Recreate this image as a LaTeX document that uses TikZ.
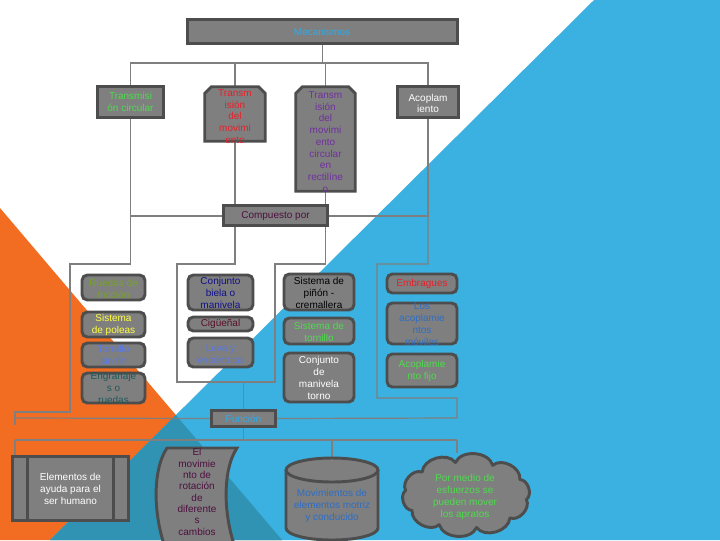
\documentclass[tikz,border=0pt]{standalone}
\usepackage{fontspec}
\setmainfont{Liberation Sans}
\usetikzlibrary{fit}
\definecolor{boxg}{HTML}{7F7F7F}
\definecolor{bord}{HTML}{4D4D4D}
\definecolor{orng}{HTML}{F26D21}
\definecolor{blu}{HTML}{3AB1E0}
\definecolor{tealb}{HTML}{3193B3}
\definecolor{tcyan}{HTML}{35A8E2}
\definecolor{tgreen}{HTML}{4CDC4C}
\definecolor{tred}{HTML}{E8202A}
\definecolor{tpurp}{HTML}{7030A0}
\definecolor{tmaroon}{HTML}{4E1040}
\definecolor{tolive}{HTML}{78A030}
\definecolor{tyell}{HTML}{FFFF40}
\definecolor{tlblue}{HTML}{5A78E0}
\definecolor{tdteal}{HTML}{1E5A5A}
\definecolor{tnavy}{HTML}{10108A}
\definecolor{tburg}{HTML}{5A1028}
\definecolor{tmblue}{HTML}{2F6EC4}
\begin{document}
\begin{tikzpicture}[x=0.75pt,y=-0.75pt,
  ln/.style={draw=boxg, line width=0.9pt},
  bx/.style={draw=bord, fill=boxg, line width=2.2pt, inner sep=0pt},
  rbx/.style={bx, rounded corners=4pt},
  fitn/.style={inner sep=0pt},
  tx/.style={align=center, font=\fontsize{7.5pt}{8.8pt}\selectfont, inner sep=0pt}]
\useasboundingbox (0,0) rectangle (720,540);
\clip (0,0) rectangle (720,540);
% background
\fill[white] (0,0) rectangle (720,540);
\fill[orng] (0,208) -- (0,540) -- (282,540) -- cycle;
\fill[blu] (594,0) -- (720,0) -- (720,540) -- (50,540) -- cycle;
\begin{scope}
\clip (0,208) -- (0,540) -- (282,540) -- cycle;
\fill[tealb] (594,0) -- (720,0) -- (720,540) -- (50,540) -- cycle;
\end{scope}
% node frames (named, invisible) for connectors
\node[fitn, fit={(188,20)(457,43)}] (mec) {};
\node[fitn, fit={(98,87)(163,117)}] (tc) {};
\node[fitn, fit={(205,87)(265,141)}] (tdm) {};
\node[fitn, fit={(296,87)(355,191)}] (rec) {};
\node[fitn, fit={(398,87)(458,117)}] (aco) {};
\node[fitn, fit={(224,206)(327,225)}] (cp) {};
\node[fitn, fit={(212,411)(275,426)}] (fn) {};
\node[fitn, fit={(13,457)(128,520)}] (el) {};
\node[fitn, fit={(157,448)(240,540)}] (scr) {};
\node[fitn, fit={(286,458)(378,540)}] (cyl) {};
\node[fitn, fit={(397,453)(535,537)}] (cl) {};
% bend coordinates
\coordinate (b1) at (0,63);
\coordinate (b2) at (0,216);
\coordinate (b3) at (0,264);
\coordinate (k1) at (70,264);
\coordinate (k1e) at (70,412);
\coordinate (k0) at (15,412);
\coordinate (k0e) at (15,418);
\coordinate (k0s) at (15,425);
\coordinate (k2) at (177,264);
\coordinate (k2e) at (177,382);
\coordinate (k3) at (275,264);
\coordinate (k3e) at (275,382);
\coordinate (k4) at (377,264);
\coordinate (k4e) at (377,398);
\coordinate (k5) at (457,398);
\coordinate (k5e) at (457,418);
\coordinate (m1) at (15,440);
\coordinate (m4) at (457,440);
\coordinate (elt) at (15,457);
% connectors
\draw[ln] (mec.south) -- (mec.south|-b1);
\draw[ln] (tc.north) -- (tc.north|-b1) -- (aco.north|-b1) -- (aco.north);
\draw[ln] (tdm.north) -- (tdm.north|-b1);
\draw[ln] (rec.north) -- (rec.north|-b1);
\draw[ln] (tc.south) -- (tc.south|-b2) -- (aco.south|-b2) -- (aco.south);
\draw[ln] (tdm.south) -- (tdm.south|-cp.north);
\draw[ln] (rec.south) -- (rec.south|-cp.north);
\draw[ln] (tc.south|-b2) -- (tc.south|-b3) -- (k1) -- (k1e) -- (k0) -- (k0s);
\draw[ln] (k0e) -- (fn.west);
\draw[ln] (tdm.south|-cp.south) -- (tdm.south|-b3) -- (k2) -- (k2e) -- (k3e) -- (k3) -- (rec.south|-b3) -- (rec.south|-cp.south);
\draw[ln] (fn.north|-k2e) -- (fn.north);
\draw[ln] (aco.south|-b2) -- (aco.south|-b3) -- (k4) -- (k4e) -- (k5) -- (k5e) -- (fn.east);
\draw[ln] (fn.south) -- (fn.south|-m1);
\draw[ln] (m1) -- (m4);
\draw[ln] (m1) -- (elt);
\draw[ln] (cyl.north|-m1) -- (cyl.north);
\draw[ln] (m4) -- (m4|-cl.north);
% shapes
\draw[bx] (mec.south west) rectangle (mec.north east);
\draw[bx] (tc.south west) rectangle (tc.north east);
\draw[bx] (tdm.south west) -- ([yshift=-5pt]tdm.north west) -- ([xshift=5pt]tdm.north west) -- ([xshift=-5pt]tdm.north east) -- ([yshift=-5pt]tdm.north east) -- (tdm.south east) -- cycle;
\draw[bx] (rec.south west) -- ([yshift=-5pt]rec.north west) -- ([xshift=5pt]rec.north west) -- ([xshift=-5pt]rec.north east) -- ([yshift=-5pt]rec.north east) -- (rec.south east) -- cycle;
\draw[bx] (aco.south west) rectangle (aco.north east);
\draw[bx] (cp.south west) rectangle (cp.north east);
\node[rbx, fit={(82,275)(145,300)}] (a1) {};
\node[rbx, fit={(82,312)(145,337)}] (a2) {};
\node[rbx, fit={(82,343)(145,367)}] (a3) {};
\node[rbx, fit={(82,373)(145,403)}] (a4) {};
\node[rbx, fit={(188,275)(253,310)}] (bb1) {};
\node[rbx, fit={(188,317)(253,331)}] (bb2) {};
\node[rbx, fit={(188,338)(253,367)}] (bb3) {};
\node[rbx, fit={(284,274)(354,310)}] (c1) {};
\node[rbx, fit={(284,318)(354,344)}] (c2) {};
\node[rbx, fit={(284,353)(354,402)}] (c3) {};
\node[rbx, fit={(387,274)(457,293)}] (d1) {};
\node[rbx, fit={(387,303)(457,344)}] (d2) {};
\node[rbx, fit={(387,354)(457,387)}] (d3) {};
\draw[bx] (fn.south west) rectangle (fn.north east);
% predefined process
\draw[bx] (el.south west) rectangle (el.north east);
\draw[draw=bord, line width=2.2pt] ([xshift=11.25pt]el.north west) -- ([xshift=11.25pt]el.south west);
\draw[draw=bord, line width=2.2pt] ([xshift=-11.25pt]el.north east) -- ([xshift=-11.25pt]el.south east);
% scroll
\draw[bx] (167,448) -- (237,448) .. controls (222,470) and (222,520) .. (240,560) -- (170,560) .. controls (152,520) and (152,470) .. (167,448) -- cycle;
% cylinder
\fill[boxg] (286,470) -- (286,528) arc[start angle=180, end angle=360, x radius=34.5pt, y radius=9pt] -- (378,470) -- cycle;
\draw[draw=bord, line width=2.2pt] (286,470) -- (286,528) arc[start angle=180, end angle=360, x radius=34.5pt, y radius=9pt] -- (378,470);
\draw[bx] (332,470) ellipse [x radius=34.5pt, y radius=9pt];
% cloud
\foreach \i in {0,...,10} \coordinate (P\i) at ({466+61*cos(\i*36+8)},{495+33*sin(\i*36+8)});
\draw[bx, line join=round] (P0) \foreach \i in {1,...,10} { to[bend left=70] (P\i) } -- cycle;
% texts
\node[tx, text=tcyan] (tmec) at (322,32) {Mecanismos};
\node[tx, text=tgreen] (ttc) at (130.5,102) {Transmisi\\ón circular};
\node[tx, text=tred] (ttdm) at (235,116.5) {Transm\\isión\\del\\movimi\\ento};
\node[tx, text=tpurp] (trec) at (325.5,142) {Transm\\isión\\del\\movimi\\ento\\circular\\en\\rectilíne\\o};
\node[tx, text=white] (taco) at (428,103.5) {Acoplam\\iento};
\node[tx, text=tmaroon] (tcp) at (275.5,216) {Compuesto por};
\node[tx, text=tolive] (ta1) at (113.5,289) {Ruedas de\\fricción};
\node[tx, text=tyell] (ta2) at (113.5,325) {Sistema\\de poleas};
\node[tx, text=tlblue] (ta3) at (113.5,355) {Tornillo\\sin fin};
\node[tx, text=tdteal] (ta4) at (113.5,388) {Engranaje\\s o\\ruedas};
\node[tx, text=tnavy] (tb1) at (220.5,293) {Conjunto\\biela o\\manivela};
\node[tx, text=tburg] (tb2) at (220.5,324) {Cigüeñal};
\node[tx, text=tlblue] (tb3) at (220.5,354) {Leva y\\excéntrica};
\node[tx, text=black] (tc1) at (319,293) {Sistema de\\piñón -\\cremallera};
\node[tx, text=tgreen] (tc2) at (319,332) {Sistema de\\tornillo};
\node[tx, text=white] (tc3) at (319,378) {Conjunto\\de\\manivela\\torno};
\node[tx, text=tred] (td1) at (422,284) {Embragues};
\node[tx, text=tmblue] (td2) at (422,324) {Los\\acoplamie\\ntos\\móviles};
\node[tx, text=tgreen] (td3) at (422,371) {Acoplamie\\nto fijo};
\node[tx, text=tcyan] (tfn) at (243.5,418.5) {Función};
\node[tx, text=white] (tel) at (70.5,489) {Elementos de\\ayuda para el\\ser humano};
\node[tx, text=tmaroon, font=\fontsize{7.5pt}{8.5pt}\selectfont] (tscr) at (197,492) {El\\movimie\\nto de\\rotación\\de\\diferente\\s\\cambios};
\node[tx, text=tmblue] (tcyl) at (332,506) {Movimientos de\\elementos motriz\\y conducido};
\node[tx, text=tgreen] (tcl) at (465,497) {Por medio de\\esfuerzos se\\pueden mover\\los apratos};
\end{tikzpicture}
\end{document}
